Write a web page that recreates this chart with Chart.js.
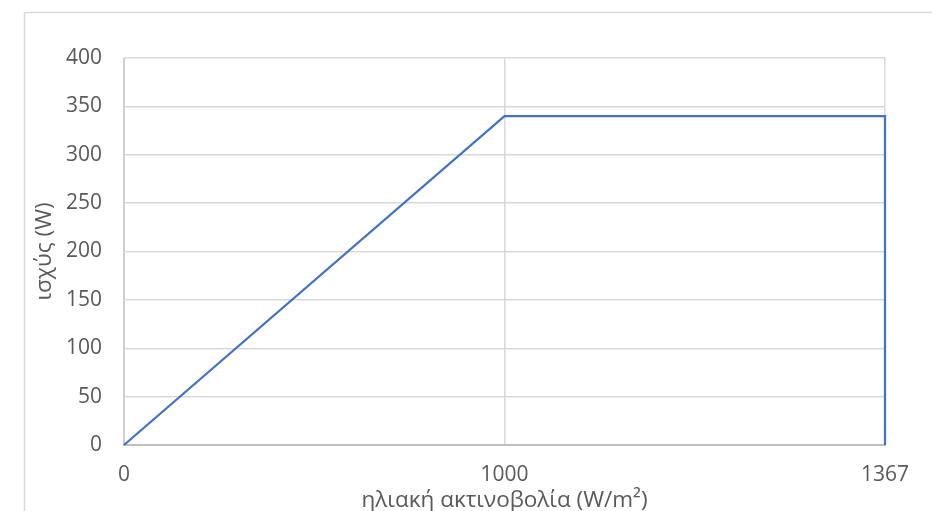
<!DOCTYPE html>
<html>
<head>
<meta charset="utf-8">
<script src="https://cdn.jsdelivr.net/npm/chart.js@4/dist/chart.umd.min.js"></script>
<style>
  html, body { margin: 0; padding: 0; background: #ffffff; }
  #wrap { position: relative; width: 932px; height: 511px; }
</style>
</head>
<body>
<div id="wrap"><canvas id="chart" width="932" height="511"></canvas></div>
<script>
// Category ticks along the irradiance axis
const irradianceTicks = ['0', '1000', '1367'];
// Panel output curve: irradiance (W/m²) and power (W)
const irradiance = ['0', '1000', '1367', '1367'];
const power = [0, 340, 340, 0];
// Power axis ticks
const powerMin = 0;
const powerMax = 400;
const powerStep = 50;

const FONT = { family: '"Open Sans", "Noto Sans", sans-serif', size: 21 };
const TITLE_FONT = { family: '"Open Sans", "Noto Sans", sans-serif', size: 22.5 };
const TEXT = '#595959';

// Light frame around the chart
const framePlugin = {
  id: 'frame',
  beforeDraw(chart) {
    const ctx = chart.ctx;
    ctx.save();
    ctx.fillStyle = '#ffffff';
    ctx.fillRect(0, 0, chart.width, chart.height);
    ctx.strokeStyle = '#d9d9d9';
    ctx.lineWidth = 1.5;
    ctx.strokeRect(24.5, 12.5, chart.width + 20, chart.height + 20);
    ctx.restore();
  }
};

new Chart(document.getElementById('chart'), {
  type: 'line',
  data: {
    labels: irradianceTicks,
    datasets: [{
      data: irradiance.map((x, i) => ({ x: x, y: power[i] })),
      borderColor: '#4472c4',
      borderWidth: 2.25,
      pointRadius: 0,
      tension: 0,
      fill: false,
      clip: false
    }]
  },
  options: {
    responsive: false,
    animation: false,
    events: [],
    layout: { padding: { left: 28, right: 47, top: 58, bottom: 0 } },
    plugins: { legend: { display: false }, tooltip: { enabled: false } },
    scales: {
      x: {
        type: 'category',
        offset: false,
        afterFit(scale) { scale.height = 66; },
        grid: {
          drawTicks: false,
          color: (c) => c.index === 0 ? '#cfcfcf' : '#d9d9d9',
          lineWidth: (c) => c.index === 0 ? 2 : 1.5
        },
        border: { display: true, color: '#bfbfbf', width: 2 },
        ticks: { color: TEXT, font: FONT, padding: 17, maxRotation: 0, autoSkip: false },
        title: {
          display: true,
          text: 'ηλιακή ακτινοβολία (W/m²)',
          color: TEXT,
          font: TITLE_FONT,
          padding: { top: 0, bottom: -3 }
        }
      },
      y: {
        min: powerMin,
        max: powerMax,
        afterFit(scale) { scale.width = 96; },
        grid: {
          drawTicks: false,
          color: '#d9d9d9',
          lineWidth: 1.5
        },
        border: { display: false },
        ticks: { stepSize: powerStep, color: TEXT, font: FONT, padding: 22 },
        title: {
          display: true,
          text: 'ισχύς (W)',
          color: TEXT,
          font: TITLE_FONT,
          padding: { top: 3, bottom: 0 }
        }
      }
    }
  },
  plugins: [framePlugin]
});
</script>
</body>
</html>
